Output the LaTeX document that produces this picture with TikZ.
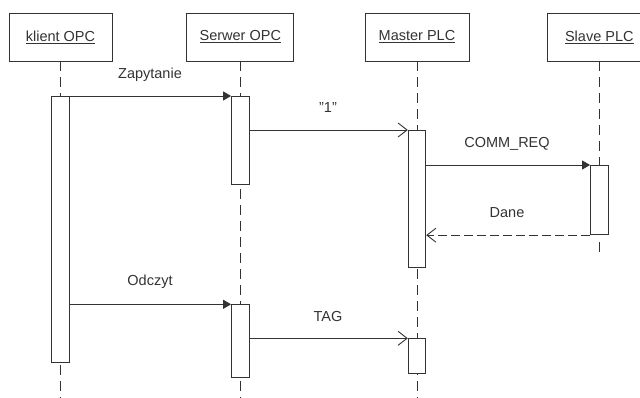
\documentclass[tikz,border=0pt]{standalone}
\usepackage{fontspec}
\setmainfont{Liberation Sans}
\usetikzlibrary{arrows.meta}
\definecolor{ln}{HTML}{333333}
\definecolor{tx}{HTML}{333333}
\tikzset{
  head/.style={draw=ln, line width=0.9pt, fill=white, minimum height=48pt, inner sep=0pt, text=tx, font=\fontsize{14.5}{17}\selectfont},
  act/.style={draw=ln, line width=0.9pt, fill=white, minimum width=17.5pt, inner sep=0pt, anchor=north},
  life/.style={draw=ln, line width=0.9pt, dash pattern=on 10pt off 6pt},
  sync/.style={draw=ln, line width=0.9pt, -{Triangle[length=8pt,width=9pt]}},
  async/.style={draw=ln, line width=0.9pt, -{Straight Barb[length=9pt,width=14pt]}},
  reply/.style={draw=ln, line width=0.9pt, dash pattern=on 9pt off 4pt, -{Straight Barb[length=9pt,width=14pt]}},
  lbl/.style={text=tx, font=\fontsize{14.5}{17}\selectfont, inner sep=0pt}
}
\begin{document}
\begin{tikzpicture}[x=1pt,y=-1pt]
\useasboundingbox (0,0) rectangle (640,398);
\begin{scope}
\clip (0,0) rectangle (640,398);
% headers
\node[head, minimum width=103pt] (hk) at (60.5,37) {\underline{klient OPC}};
\node[head, minimum width=107pt] (hs) at (240.3,37) {\underline{Serwer OPC}};
\node[head, minimum width=104pt] (hm) at (417,37) {\underline{Master PLC}};
\node[head, minimum width=104pt] (hl) at (599.3,37) {\underline{Slave PLC}};
% lifeline ends
\coordinate (ek) at (60.5,398);
\coordinate (es) at (240.3,398);
\coordinate (em) at (417,398);
\coordinate (el) at (599.3,252);
\draw[life] (hk.south) -- (ek);
\draw[life] (hs.south) -- (es);
\draw[life] (hm.south) -- (em);
\draw[life] (hl.south) -- (hl.south |- 0,165);
% activations
\node[act, minimum height=265.7pt] (k1) at (60.5,96) {};
\node[act, minimum height=88pt] (s1) at (240.3,96) {};
\node[act, minimum height=136.7pt] (m1) at (417,130) {};
\node[act, minimum height=69.3pt] (l1) at (599.3,165) {};
\node[act, minimum height=73pt] (s2) at (240.3,304.3) {};
\node[act, minimum height=35pt] (m2) at (417,338.3) {};
\draw[draw=ln, line width=0.9pt, dash pattern=on 0pt off 7pt on 10pt off 200pt] (l1.south) -- (el);
% messages
\draw[sync] (k1.north east) -- (s1.north west);
\node[lbl] (t1) at (150,75) {Zapytanie};
\draw[async] (s1.east |- m1.north) -- (m1.north west);
\node[lbl] (t2) at (328,108) {"1"};
\draw[sync] (m1.east |- l1.north) -- (l1.north west);
\node[lbl] (t3) at (507,144) {COMM\_REQ};
\draw[reply] (l1.south west) -- (m1.east |- l1.south);
\node[lbl] (t4) at (507,213) {Dane};
\draw[sync] (k1.east |- s2.north) -- (s2.north west);
\node[lbl] (t5) at (150,282) {Odczyt};
\draw[async] (s2.east |- m2.north) -- (m2.north west);
\node[lbl] (t6) at (328,317) {TAG};
\end{scope}
\end{tikzpicture}
\end{document}
